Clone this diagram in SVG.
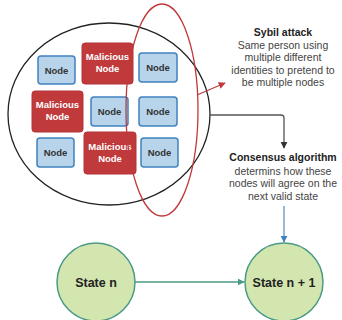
<svg xmlns="http://www.w3.org/2000/svg" width="342" height="320" viewBox="0 0 342 320">
<style>
text{font-family:"Liberation Sans",Arial,sans-serif;text-anchor:middle}
.n rect{fill:#b8d4ea;stroke:#3f82c0;stroke-width:1.5}
.n text{font-size:9.5px;font-weight:bold;fill:#333}
.m rect{fill:#c0393b;stroke:#b3343a;stroke-width:1}
.m text{font-size:9.5px;font-weight:bold;fill:#fff}
.s circle{fill:#d3e6b0;stroke:#4b9a86;stroke-width:1.5}
.s text{font-size:12.5px;font-weight:bold;fill:#222}
.lbl{font-size:10.5px;fill:#444}
.lbl .b{font-weight:bold;fill:#222}
</style>
<defs>
<marker id="ar" viewBox="0 0 10 10" refX="9" refY="5" markerWidth="7" markerHeight="7" orient="auto" markerUnits="userSpaceOnUse"><path d="M0,0L10,5L0,10z" fill="#c0393b"/></marker>
<marker id="ak" viewBox="0 0 10 10" refX="9" refY="5" markerWidth="7" markerHeight="7" orient="auto" markerUnits="userSpaceOnUse"><path d="M0,0L10,5L0,10z" fill="#333"/></marker>
<marker id="ab" viewBox="0 0 10 10" refX="9" refY="5" markerWidth="7" markerHeight="7" orient="auto" markerUnits="userSpaceOnUse"><path d="M0,0L10,5L0,10z" fill="#3f82c0"/></marker>
<marker id="at" viewBox="0 0 10 10" refX="9" refY="5" markerWidth="7" markerHeight="7" orient="auto" markerUnits="userSpaceOnUse"><path d="M0,0L10,5L0,10z" fill="#4b9a86"/></marker>
</defs>
<g id="network"><ellipse cx="109" cy="114" rx="101" ry="91" fill="none" stroke="#222" stroke-width="1.3"/></g>
<g id="n1" class="n"><rect x="38" y="56" width="37" height="28" rx="3"/><text x="56.5" y="73.5">Node</text></g>
<g id="m1" class="m"><rect x="82" y="43" width="51" height="41" rx="3"/><text x="107.5" y="60">Malicious</text><text x="107.5" y="72">Node</text></g>
<g id="n2" class="n"><rect x="139" y="53" width="38" height="29" rx="3"/><text x="158" y="70.5">Node</text></g>
<g id="m2" class="m"><rect x="32" y="91" width="51" height="41" rx="3"/><text x="57.5" y="108">Malicious</text><text x="57.5" y="120">Node</text></g>
<g id="n3" class="n"><rect x="91" y="97" width="37" height="29" rx="3"/><text x="109.5" y="114.5">Node</text></g>
<g id="n4" class="n"><rect x="139" y="97" width="38" height="29" rx="3"/><text x="158" y="114.5">Node</text></g>
<g id="n5" class="n"><rect x="37" y="138" width="37" height="29" rx="3"/><text x="55.5" y="155.5">Node</text></g>
<g id="m3" class="m"><rect x="84" y="132" width="52" height="42" rx="3"/><text x="110" y="149.5">Malicious</text><text x="110" y="161.5">Node</text></g>
<g id="n6" class="n"><rect x="141" y="138" width="37" height="29" rx="3"/><text x="159.5" y="155.5">Node</text></g>
<g id="sybil-group"><ellipse cx="162" cy="110" rx="36" ry="106" fill="none" stroke="#c0393b" stroke-width="1.3"/></g>
<g id="sybil" class="lbl"><text x="283" y="36" class="b">Sybil attack</text><text x="283" y="48.5">Same person using</text><text x="283" y="61">multiple different</text><text x="283" y="73.5">identities to pretend to</text><text x="283" y="86">be multiple nodes</text></g>
<g id="consensus" class="lbl"><text x="283" y="161" class="b">Consensus algorithm</text><text x="283" y="174.5">determins how these</text><text x="283" y="187">nodes will agree on the</text><text x="283" y="199.5">next valid state</text></g>
<g id="s1" class="s"><circle cx="96" cy="282" r="39"/><text x="96" y="286.5">State n</text></g>
<g id="s2" class="s"><circle cx="284" cy="282" r="39"/><text x="284" y="286.5">State n + 1</text></g>
<g id="connectors" fill="none" stroke-width="1.3">
<path d="M197,95L225,83" stroke="#c0393b" marker-end="url(#ar)"/>
<path d="M210,115H281Q284,115 284,118V148" stroke="#555" marker-end="url(#ak)"/>
<path d="M284,206V242" stroke="#5f97c4" marker-end="url(#ab)"/>
<path d="M135,282H244" stroke="#4b9a86" marker-end="url(#at)"/>
</g>
</svg>
